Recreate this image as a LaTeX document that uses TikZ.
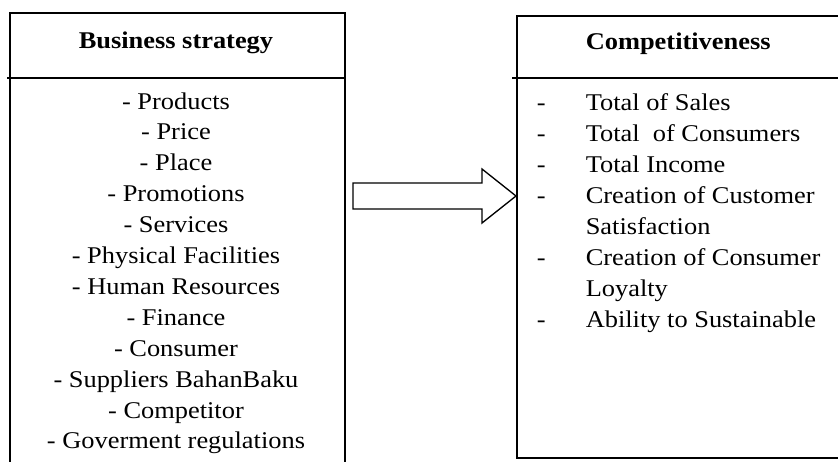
\documentclass[tikz,border=0pt]{standalone}
\usepackage{fontspec}
\setmainfont[FakeStretch=1.1]{Liberation Serif}
\usetikzlibrary{shapes,arrows,positioning}

\begin{document}
\begin{tikzpicture}[x=0.75pt,y=-0.75pt,line width=1.2pt,
    box/.style={draw, rectangle, anchor=north west, inner sep=0pt},
    item/.style={inner sep=0pt, font=\fontsize{18}{23}\selectfont},
    head/.style={inner sep=0pt, font=\fontsize{18}{23}\selectfont\bfseries}]
    \clip (0,0) rectangle (838,461);
    %%%%%%%%% left box
    \node[box, minimum width=251.25pt, minimum height=345pt] (bsbox) at (9,12) {};
    \draw ([xshift=-1.5pt,yshift=-49.5pt]bsbox.north west) -- ([yshift=-49.5pt]bsbox.north east);
    \node[head, anchor=base] (bshead) at (176,48) {Business strategy};
    \foreach \txt [count=\i] in {Products,Price,Place,Promotions,Services,Physical Facilities,Human Resources,Finance,Consumer,Suppliers BahanBaku,Competitor,Goverment regulations}
        \node[item, anchor=base] (bs\i) at (176,{109+30.9*(\i-1)}) {- \txt};
    %%%%%%%%% right box
    \node[box, minimum width=260pt, minimum height=331.5pt] (cpbox) at (516,15) {};
    \draw ([xshift=-3pt,yshift=-47.25pt]cpbox.north west) -- ([yshift=-47.25pt]cpbox.north east);
    \node[head, anchor=base west] (cphead) at (585,49) {Competitiveness};
    \foreach \txt/\bul [count=\i] in {Total of Sales/-,{Total\ \ of Consumers}/-,Total Income/-,Creation of Customer/-,Satisfaction/,Creation of Consumer/-,Loyalty/,Ability to Sustainable/-}
    {
        \node[item, anchor=base west] (cp\i) at (585,{110+31*(\i-1)}) {\txt};
        \node[item, anchor=base west] (cpd\i) at (536,{110+31*(\i-1)}) {\bul};
    }
    %%%%%%%%% block arrow, tip on the left side of the right box
    \coordinate (arrtip) at (516,196);
    \draw[line width=1pt, line join=miter] (arrtip) -- ++(-34,-27) -- ++(0,14) -- ++(-129,0)
        -- ++(0,26) -- ++(129,0) -- ++(0,14) -- cycle;
\end{tikzpicture}
\end{document}
